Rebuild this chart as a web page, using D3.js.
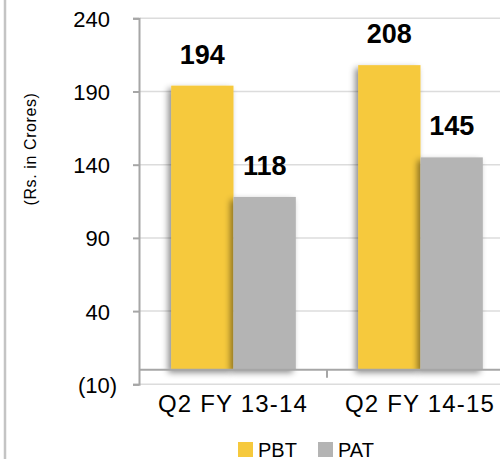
<!DOCTYPE html>
<html lang="en">
<head>
<meta charset="UTF-8">
<title>PBT / PAT</title>
<script src="https://d3js.org/d3.v7.min.js"></script>
<style>
    body { margin: 0; background: #fff; }
    svg text { font-family: "Liberation Sans", Arial, sans-serif; fill: #000; }
</style>
</head>
<body>
<svg id="chart" width="500" height="459"></svg>
<script>
    // chart data
    const categories = ["Q2 FY 13-14", "Q2 FY 14-15"];
    const seriesNames = ["PBT", "PAT"];
    const pbtValues = [194, 208];
    const patValues = [118, 145];
    const yTicks = [-10, 40, 90, 140, 190, 240];
    const colors = ["#F6C93D", "#B4B4B4"];

    const svg = d3.select("#chart");

    // drop shadow for the bars (down-left)
    const defs = svg.append("defs");
    const f = defs.append("filter").attr("id", "shadow")
        .attr("x", "-30%").attr("y", "-10%").attr("width", "150%").attr("height", "130%");
    f.append("feDropShadow").attr("dx", -3).attr("dy", 3)
        .attr("stdDeviation", 3).attr("flood-color", "#000").attr("flood-opacity", 0.45);

    const y = d3.scaleLinear().domain([-10, 240]).range([384.3, 18.3]);
    const x0 = d3.scaleBand().domain(categories).range([140, 514]);
    const x1 = d3.scaleBand().domain(seriesNames).range([0, x0.bandwidth()])
        .paddingInner(0).paddingOuter(0.5);

    const rows = categories.map((c, i) => ({cat: c, values: [pbtValues[i], patValues[i]]}));

    // frame line on the left
    svg.append("line").attr("x1", 5).attr("x2", 5).attr("y1", 0).attr("y2", 459)
        .attr("stroke", "#C4C4C4").attr("stroke-width", 2.5);

    // gridlines
    svg.append("g").selectAll("line").data(yTicks).enter().append("line")
        .attr("x1", 140).attr("x2", 500)
        .attr("y1", d => y(d)).attr("y2", d => y(d))
        .attr("stroke", "#DCDCDC").attr("stroke-width", 1.5);

    // bars
    const groups = svg.append("g").selectAll("g").data(rows).enter().append("g")
        .attr("transform", d => `translate(${x0(d.cat)},0)`);

    groups.selectAll("rect").data(d => d.values.map((v, i) => ({name: seriesNames[i], v: v, i: i})))
        .enter().append("rect")
        .attr("x", d => x1(d.name))
        .attr("width", x1.bandwidth())
        .attr("y", d => y(d.v))
        .attr("height", d => y(0) - y(d.v))
        .attr("fill", d => colors[d.i])
        .attr("filter", "url(#shadow)");

    groups.selectAll("text").data(d => d.values.map((v, i) => ({name: seriesNames[i], v: v})))
        .enter().append("text")
        .attr("x", d => x1(d.name) + x1.bandwidth() / 2)
        .attr("y", d => y(d.v) - 22)
        .attr("text-anchor", "middle")
        .style("font-size", "27px")
        .style("font-weight", "bold")
        .text(d => d.v);

    // zero line (category axis)
    svg.append("line").attr("x1", 140).attr("x2", 500)
        .attr("y1", y(0)).attr("y2", y(0))
        .attr("stroke", "#A6A6A6").attr("stroke-width", 2);
    svg.append("g").selectAll("line").data(categories.slice(1)).enter().append("line")
        .attr("x1", d => x0(d)).attr("x2", d => x0(d))
        .attr("y1", y(0)).attr("y2", y(0) + 8)
        .attr("stroke", "#A6A6A6").attr("stroke-width", 2);

    // y axis
    const yAxis = d3.axisLeft(y).tickValues(yTicks).tickSize(6).tickPadding(0)
        .tickFormat(d => d < 0 ? `(${Math.abs(d)})` : d);
    const ya = svg.append("g").attr("transform", "translate(139,0)").call(yAxis);
    ya.select(".domain").attr("stroke", "#A6A6A6").attr("stroke-width", 2);
    ya.selectAll(".tick line").attr("stroke", "#A6A6A6").attr("stroke-width", 2);
    ya.selectAll(".tick text")
        .attr("x", d => d < 0 ? -22 : -29)
        .attr("dy", "0.36em")
        .style("font-size", "22px")
        .style("font-family", "\"Liberation Sans\", Arial, sans-serif")
        .attr("fill", "#000");

    // y axis title
    svg.append("text")
        .attr("transform", "translate(36,149) rotate(-90)")
        .attr("text-anchor", "middle")
        .style("font-size", "16px")
        .style("letter-spacing", "0.6px")
        .text("(Rs. in Crores)");

    // category labels
    svg.append("g").selectAll("text").data(categories).enter().append("text")
        .attr("x", d => x0(d) + x0.bandwidth() / 2 - 0.5)
        .attr("y", 412)
        .attr("text-anchor", "middle")
        .style("font-size", "24px")
        .style("letter-spacing", "1.2px")
        .text(d => d);

    // legend
    const legendX = [238, 318];
    const lg = svg.append("g").selectAll("g").data(seriesNames).enter().append("g")
        .attr("transform", (d, i) => `translate(${legendX[i]},442)`);
    lg.append("rect").attr("width", 15).attr("height", 15).attr("fill", (d, i) => colors[i]);
    lg.append("text").attr("x", 20).attr("y", 15).style("font-size", "20px").text(d => d);
</script>
</body>
</html>
